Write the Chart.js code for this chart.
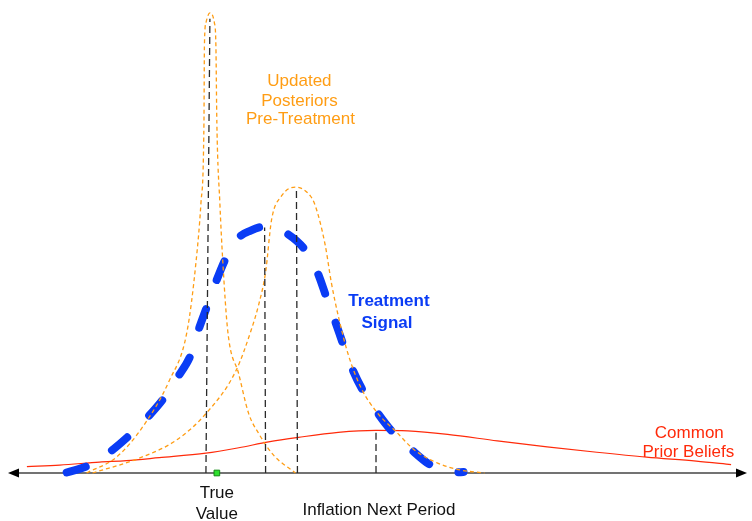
<!DOCTYPE html>
<html>
<head>
<meta charset="utf-8">
<script src="https://cdn.jsdelivr.net/npm/chart.js@4.4.0/dist/chart.umd.min.js"></script>
<style>
    body { margin: 0; background: #fff; }
    canvas { display: block; }
</style>
</head>
<body>
<canvas id="myChart" width="752" height="521"></canvas>
<script>
// inflation values (x) and densities (y)
const priorX = [0.27, 0.60, 1.00, 1.27, 1.60, 2.07, 2.40, 2.70, 3.00, 3.40, 3.78, 4.10, 4.50, 5.00, 5.50, 6.00, 6.50, 7.00, 7.35];
const priorY = [0.065, 0.08, 0.11, 0.125, 0.155, 0.20, 0.255, 0.315, 0.36, 0.41, 0.43, 0.425, 0.39, 0.325, 0.265, 0.21, 0.16, 0.12, 0.085];

const narrowX = [0.87, 1.17, 1.43, 1.70, 1.88, 1.97, 2.02, 2.05, 2.055, 2.07, 2.11, 2.155, 2.17, 2.18, 2.21, 2.24, 2.29, 2.40, 2.50, 2.60, 2.75, 2.97];
const narrowY = [0, 0.16, 0.46, 0.93, 1.43, 2.13, 2.73, 3.53, 4.33, 4.55, 4.65, 4.55, 4.33, 3.53, 2.73, 2.13, 1.43, 1.00, 0.60, 0.40, 0.18, 0];

const wideX = [0.93, 1.40, 1.77, 2.07, 2.37, 2.53, 2.60, 2.67, 2.73, 2.83, 2.97, 3.12, 3.17, 3.27, 3.33, 3.40, 3.50, 3.63, 3.80, 3.97, 4.17, 4.40, 4.63, 4.87];
const wideY = [0, 0.15, 0.33, 0.60, 1.03, 1.46, 1.70, 2.03, 2.56, 2.80, 2.89, 2.80, 2.70, 2.30, 1.93, 1.59, 1.20, 0.86, 0.60, 0.43, 0.23, 0.10, 0.03, 0];

const signalX = [0.67, 0.90, 1.10, 1.30, 1.48, 1.65, 1.78, 1.92, 1.99, 2.08, 2.17, 2.27, 2.39, 2.52, 2.65, 2.78, 2.87, 3.07, 3.19, 3.28, 3.37, 3.45, 3.53, 3.65, 3.78, 3.95, 4.12, 4.33, 4.57, 4.66];
const signalY = [0.005, 0.08, 0.21, 0.38, 0.56, 0.76, 0.96, 1.20, 1.43, 1.68, 1.93, 2.17, 2.37, 2.45, 2.49, 2.47, 2.43, 2.25, 2.03, 1.78, 1.53, 1.30, 1.08, 0.83, 0.63, 0.41, 0.25, 0.08, 0.005, 0.01];

// dashed drop lines: bottom x, top x, top y
const dropBottomX = [2.07, 2.67, 2.99, 3.78];
const dropTopX = [2.11, 2.66, 2.98, 3.78];
const dropTopY = [4.59, 2.48, 2.88, 0.43];

const trueValue = 2.18;

function pts(xs, ys) {
    return xs.map(function (x, i) { return { x: x, y: ys[i] }; });
}

const orange = "#ff9d14";

const datasets = [
    {
        label: "Common Prior Beliefs",
        data: pts(priorX, priorY),
        borderColor: "#ff2a0a",
        borderWidth: 1.2,
        order: 4,
    },
    {
        label: "Treatment Signal",
        data: pts(signalX, signalY),
        borderColor: "#0a3cf5",
        borderWidth: 8,
        borderDash: [20, 31],
        borderCapStyle: "round",
        order: 3,
    },
    {
        label: "Posterior 1",
        data: pts(narrowX, narrowY),
        borderColor: orange,
        borderWidth: 1.3,
        borderDash: [4, 3],
        order: 2,
    },
    {
        label: "Posterior 2",
        data: pts(wideX, wideY),
        borderColor: orange,
        borderWidth: 1.3,
        borderDash: [4, 3],
        order: 2,
    },
];

dropBottomX.forEach(function (x, i) {
    datasets.push({
        label: "drop" + i,
        data: [{ x: x, y: 0 }, { x: dropTopX[i], y: dropTopY[i] }],
        borderColor: "#2a2a2a",
        borderWidth: 1.3,
        borderDash: [7, 4],
        tension: 0,
        order: 1,
    });
});

datasets.push({
    label: "True Value",
    data: [{ x: trueValue, y: 0 }],
    showLine: false,
    pointStyle: "rect",
    pointRadius: 4,
    backgroundColor: "#2ee02e",
    borderColor: "#138a13",
    borderWidth: 1,
    order: 0,
});

// horizontal axis with arrow heads
const axisPlugin = {
    id: "axisArrows",
    beforeDatasetsDraw: function (chart) {
        const c = chart.ctx;
        const area = chart.chartArea;
        const y0 = chart.scales.y.getPixelForValue(0);
        c.save();
        c.strokeStyle = "#444";
        c.lineWidth = 1.6;
        c.beginPath();
        c.moveTo(area.left + 4, y0);
        c.lineTo(area.right - 4, y0);
        c.stroke();
        c.fillStyle = "#000";
        c.beginPath();
        c.moveTo(area.left, y0);
        c.lineTo(area.left + 11, y0 - 4.5);
        c.lineTo(area.left + 11, y0 + 4.5);
        c.closePath();
        c.fill();
        c.beginPath();
        c.moveTo(area.right, y0);
        c.lineTo(area.right - 11, y0 - 4.5);
        c.lineTo(area.right - 11, y0 + 4.5);
        c.closePath();
        c.fill();
        c.restore();
    },
};

// text annotations, placed in data units
const labelPlugin = {
    id: "labels",
    afterDatasetsDraw: function (chart) {
        const c = chart.ctx;
        const xs = chart.scales.x;
        const ys = chart.scales.y;
        const notes = [
            { text: "Updated", x: 3.01, y: 3.96, color: orange, bold: false },
            { text: "Posteriors", x: 3.01, y: 3.76, color: orange, bold: false },
            { text: "Pre-Treatment", x: 3.02, y: 3.57, color: orange, bold: false },
            { text: "Treatment", x: 3.91, y: 1.74, color: "#0a3cf5", bold: true },
            { text: "Signal", x: 3.89, y: 1.51, color: "#0a3cf5", bold: true },
            { text: "Common", x: 6.93, y: 0.40, color: "#ff2a0a", bold: false },
            { text: "Prior Beliefs", x: 6.92, y: 0.21, color: "#ff2a0a", bold: false },
            { text: "True", x: 2.18, y: -0.21, color: "#111", bold: false },
            { text: "Value", x: 2.18, y: -0.42, color: "#111", bold: false },
            { text: "Inflation Next Period", x: 3.81, y: -0.38, color: "#111", bold: false },
        ];
        c.save();
        c.textAlign = "center";
        c.textBaseline = "middle";
        notes.forEach(function (n) {
            c.font = (n.bold ? "bold " : "") + "17px 'Liberation Sans', Helvetica, Arial, sans-serif";
            c.fillStyle = n.color;
            c.fillText(n.text, xs.getPixelForValue(n.x), ys.getPixelForValue(n.y));
        });
        c.restore();
    },
};

const ctx = document.getElementById("myChart").getContext("2d");
new Chart(ctx, {
    type: "line",
    data: { datasets: datasets },
    options: {
        responsive: false,
        animation: false,
        layout: { padding: { left: 8, right: 1, top: 0, bottom: 48 } },
        datasets: { line: { clip: false } },
        elements: {
            point: { radius: 0 },
            line: { cubicInterpolationMode: "monotone", fill: false },
        },
        plugins: {
            legend: { display: false },
            tooltip: { enabled: false },
        },
        scales: {
            x: { type: "linear", min: 0.08, max: 7.51, display: false },
            y: { min: 0, max: 4.73, display: false },
        },
    },
    plugins: [axisPlugin, labelPlugin],
});
</script>
</body>
</html>
